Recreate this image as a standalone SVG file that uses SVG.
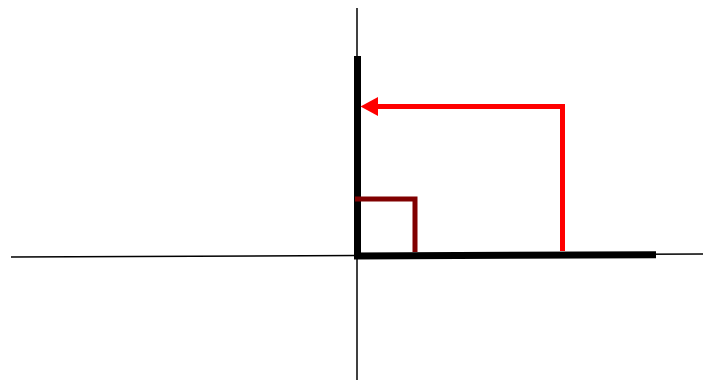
<svg xmlns="http://www.w3.org/2000/svg" width="703" height="381" viewBox="0 0 703 381">
<style>
.axis{stroke:#000;stroke-width:1.5;fill:none}
.thick{stroke:#000;stroke-width:7;fill:none}
.red{stroke:#ff0000;stroke-width:5;fill:none}
.dred{stroke:#800000;stroke-width:5;fill:none}
</style>
<rect width="703" height="381" fill="#fff"/>
<g id="axes">
<line class="axis" x1="11" y1="257" x2="703" y2="254"/>
<line class="axis" x1="357" y1="8" x2="357" y2="380"/>
</g>
<g id="vectors">
<line class="thick" x1="357.5" y1="56" x2="357.5" y2="257"/>
<line class="thick" x1="354" y1="256" x2="656" y2="254.7"/>
</g>
<g id="right-angle">
<polyline class="dred" points="355,199 415,199 415,252"/>
</g>
<g id="connectors">
<polyline class="red" points="562.5,251 562.5,106.5 376,106.5"/>
<polygon points="360.5,106.5 378,97 378,116" fill="#ff0000"/>
</g>
</svg>
